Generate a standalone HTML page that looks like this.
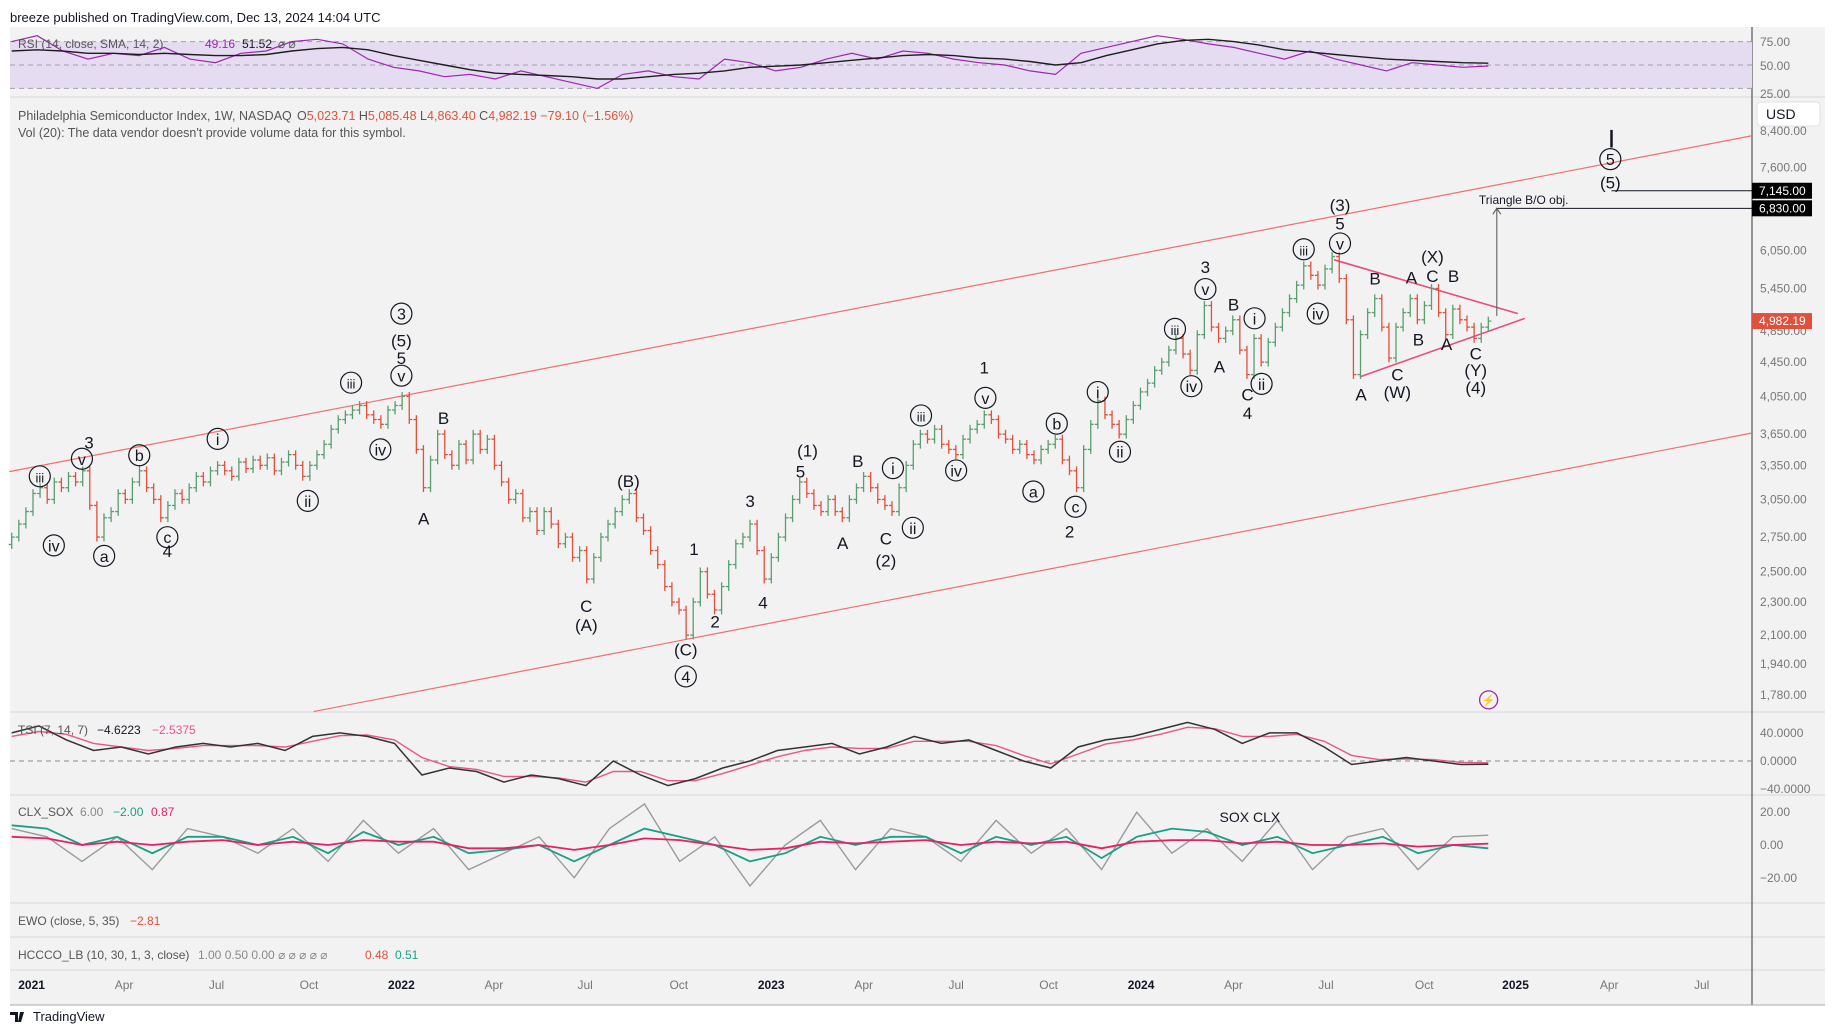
<!DOCTYPE html>
<html><head><meta charset="utf-8"><style>
body{margin:0;background:#fff;font-family:"Liberation Sans",sans-serif}
svg{display:block}
</style></head><body>
<svg id="c" width="1835" height="1033" xmlns="http://www.w3.org/2000/svg" font-family="Liberation Sans, sans-serif">
<rect x="0" y="0" width="1835" height="1033" fill="#ffffff"/>
<rect x="10" y="27" width="1815" height="978" fill="#f2f2f2"/>
<text x="10" y="22" font-size="13" fill="#131722">breeze published on TradingView.com, Dec 13, 2024 14:04 UTC</text>
<g id="grid"></g>
<g id="layer"></g>
</svg>
<script>
// ---- data ----
const closes=[2750,2850,2950,3100,3150,3050,3200,3150,3250,3200,3300,3000,2750,2900,2950,3100,3050,3200,3300,3150,3050,2900,3000,3100,3050,3150,3250,3200,3300,3350,3300,3250,3380,3320,3400,3350,3420,3300,3380,3450,3350,3250,3350,3450,3550,3700,3800,3850,3900,3950,3850,3800,3750,3900,3950,4050,3800,3500,3150,3400,3650,3450,3350,3550,3400,3650,3500,3600,3350,3200,3050,3100,2900,2950,2800,2950,2850,2700,2750,2600,2650,2450,2600,2750,2850,2950,3050,3100,2900,2800,2650,2550,2400,2300,2250,2100,2300,2500,2350,2250,2400,2550,2700,2750,2850,2650,2450,2600,2750,2900,3050,3200,3100,3000,2950,3050,2950,2900,3050,3150,3250,3150,3050,3000,2950,3150,3350,3550,3650,3600,3700,3550,3500,3450,3600,3700,3750,3850,3800,3650,3600,3500,3550,3450,3400,3500,3550,3600,3400,3300,3150,3500,3750,4000,3850,3750,3650,3800,3950,4100,4200,4350,4450,4600,4750,4550,4350,4800,5200,4900,4750,4850,5000,4600,4300,4750,4450,4700,4900,5100,5300,5500,5800,5650,5500,5750,5950,5600,5000,4300,4800,5100,5300,4900,4500,4900,5100,5300,5000,5200,5450,5100,4800,5150,5000,4900,4750,4900,4982.19];
const rsi=[70,75,62,55,60,58,65,55,52,60,62,70,72,68,55,48,45,40,42,38,45,40,35,30,42,45,40,38,55,52,45,48,55,60,55,62,60,55,52,50,45,42,60,65,70,75,72,68,65,60,55,62,55,50,45,52,50,48,49.16];
const rsiSma=[62,63,62,60,60,59,60,59,58,58,59,62,64,65,63,58,54,50,46,43,42,41,40,38,38,40,42,43,45,48,49,50,52,54,56,58,59,58,56,55,53,50,52,58,63,68,71,72,70,67,63,61,59,57,55,54,53,52,51.52];
const tsi=[40,50,30,15,20,10,20,25,20,25,15,35,40,35,25,-20,-10,-15,-30,-20,-25,-35,0,-20,-35,-25,-10,0,15,20,25,10,20,35,25,30,15,0,-10,20,30,35,45,55,45,25,40,40,20,-5,0,5,0,-5,-4.6];
const tsiSig=[35,42,38,25,20,15,18,22,22,22,20,28,36,37,30,5,-8,-12,-22,-22,-24,-30,-15,-15,-28,-28,-18,-6,6,15,20,18,18,28,28,28,22,8,-4,10,24,30,38,48,46,35,35,38,28,8,2,3,2,-2,-2.5];
const clxGray=[10,5,-10,5,-15,10,5,-5,10,-10,15,-5,10,-15,-5,5,-20,10,25,-10,5,-25,0,15,-15,10,5,-10,15,-5,10,-15,20,-5,10,-10,15,-15,5,10,-15,5,6];
const clxTeal=[12,10,0,5,-5,5,5,0,5,-5,8,0,5,-5,-3,0,-10,0,10,5,0,-10,-5,5,0,5,5,-5,5,0,5,-8,5,10,8,0,5,-5,0,5,-5,0,-2];
const clxPink=[5,4,0,2,0,2,3,0,2,0,3,2,2,-2,-2,0,-3,0,4,3,0,-3,-2,2,1,2,3,0,2,1,2,-2,2,3,3,1,2,0,0,1,-1,0,0.87];
const priceTicks=[8400,7600,6050,5450,4850,4450,4050,3650,3350,3050,2750,2500,2300,2100,1940,1780];
const timeLabels=["2021","Apr","Jul","Oct","2022","Apr","Jul","Oct","2023","Apr","Jul","Oct","2024","Apr","Jul","Oct","2025","Apr","Jul"];

// ---- scales ----
const S=1.1703;
const NS='http://www.w3.org/2000/svg';
const L=document.getElementById('layer');
const G=document.getElementById('grid');
function xW(w){return S*(10+6.066*w);}
function yP(p){return 695.2-363.5*Math.log(p/1780);}
function yRsi(v){return 65+(50-v)*1.0*S;}
function yTsi(v){return 761-v*0.6*S;}
function yClx(v){return 845-v*1.4*S;}
function mk(tag,attrs,parent){const e=document.createElementNS(NS,tag);for(const k in attrs)e.setAttribute(k,attrs[k]);(parent||L).appendChild(e);return e;}
function txt(s,x,y,size,fill,anchor,parent){const t=mk('text',{x:x,y:y,'font-size':size,fill:fill,'text-anchor':anchor||'start'},parent);t.textContent=s;return t;}

[97,712,795,903,937,970].forEach(y=>{const l=mk('line',{x1:10,x2:1825,y1:y,y2:y,stroke:'#dcdde2','stroke-width':1.2},G);

});
const AX=1752;
const ax=mk('line',{x1:AX,x2:AX,y1:27,y2:1005,stroke:'#555','stroke-width':1.2},G);


mk('line',{x1:10,x2:1825,y1:1005,y2:1005,stroke:'#aaa','stroke-width':1},G);

const rb=mk('rect',{x:10,y:yRsi(70),width:AX-10,height:yRsi(30)-yRsi(70),fill:'#e6dcf2'});


[70,50,30].forEach(v=>mk('line',{x1:10,x2:AX,y1:yRsi(v),y2:yRsi(v),stroke:'#a0a0a8','stroke-dasharray':'5,4','stroke-width':1}));
function series(arr,yf,color,w,name,x0,x1){const n=arr.length;let d='';arr.forEach((v,i)=>{const x=x0+(x1-x0)*i/(n-1);d+=(i?'L':'M')+x.toFixed(1)+','+yf(v).toFixed(1);});const p=mk('path',{d:d,fill:'none',stroke:color,'stroke-width':w});

return p;}
const X0=xW(0),X1=xW(closes.length-1);
series(rsi,yRsi,'#9c27b0',1.2,'rsi-line',X0,X1);
series(rsiSma,yRsi,'#1e1e1e',1.4,'rsi-sma-line',X0,X1);
const rl=txt('RSI (14, close, SMA, 14, 2)',18,48,12,'#555');


txt('49.16',205,48,12,'#9c27b0');txt('51.52',242,48,12,'#131722');txt('⌀ ⌀',278,48,12,'#555');
[[75,42],[50,66],[25,94]].forEach(a=>txt(a[0].toFixed(2),1760,a[1]+4,12,'#777'));

const sl=txt('Philadelphia Semiconductor Index, 1W, NASDAQ',18,120,12.5,'#555');


const ohlc=mk('text',{x:297,y:120,'font-size':12.5,fill:'#555'});
ohlc.innerHTML='O<tspan fill="#e0503c">5,023.71</tspan> H<tspan fill="#e0503c">5,085.48</tspan> L<tspan fill="#e0503c">4,863.40</tspan> C<tspan fill="#e0503c">4,982.19</tspan> <tspan fill="#e0503c">−79.10 (−1.56%)</tspan>';
txt("Vol (20): The data vendor doesn't provide volume data for this symbol.",18,137,12.5,'#555');

const ub=mk('rect',{x:1757,y:102,width:63,height:24,rx:4,fill:'#fff',stroke:'#e0e0e0'});


txt('USD',1766,119,14,'#131722');

priceTicks.forEach(p=>txt(p.toLocaleString('en-US',{minimumFractionDigits:2}),1760,yP(p)+4,12,'#777'));

function sl2(a,b,c,d,col,w,name){const l=mk('line',{x1:a*S,y1:b*S,x2:c*S,y2:d*S,stroke:col,'stroke-width':w});

}
sl2(8,403,1497,116,'#f07070',1.2,'channel-upper');
sl2(268,608,1497,370,'#f07070',1.2,'channel-lower');
sl2(1140,222,1297,268,'#e84c7d',1.6,'triangle-upper');
sl2(1162,322,1303,272,'#e84c7d',1.6,'triangle-lower');

closes.forEach((c,i)=>{
  const o=i?closes[i-1]:c*0.98;
  const hi=Math.max(o,c)*1.012, lo=Math.min(o,c)*0.988;
  const col=c>=o?'#5a9e6f':'#e0503c';
  const x=xW(i);
  const g=mk('g',{});
  
  
  mk('line',{x1:x,x2:x,y1:yP(hi),y2:yP(lo),stroke:col,'stroke-width':1.3},g);
  mk('line',{x1:x-3,x2:x,y1:yP(o),y2:yP(o),stroke:col,'stroke-width':1.3},g);
  mk('line',{x1:x,x2:x+3,y1:yP(c),y2:yP(c),stroke:col,'stroke-width':1.3},g);
});

mk('line',{x1:1377*S,x2:AX,y1:163*S,y2:163*S,stroke:'#131722','stroke-width':1});
mk('line',{x1:1279*S,x2:AX,y1:178*S,y2:178*S,stroke:'#131722','stroke-width':1});
mk('line',{x1:1279*S,x2:1279*S,y1:178*S,y2:270*S,stroke:'#555','stroke-width':1});
mk('path',{d:`M${1279*S-4},${178*S+6}L${1279*S},${178*S}L${1279*S+4},${178*S+6}`,fill:'none',stroke:'#555'});
mk('line',{x1:1377*S,x2:1377*S,y1:111*S,y2:126*S,stroke:'#131722','stroke-width':2.5});
txt('Triangle B/O obj.',1302*S,171*S+4,12,'#131722','middle');
[[7145,163],[6830,178]].forEach(a=>{const r=mk('rect',{x:AX,y:a[1]*S-8,width:60,height:16,fill:'#000'});


txt(a[0].toLocaleString('en-US',{minimumFractionDigits:2}),1759,a[1]*S+4,12,'#fff');});
const lp=mk('rect',{x:AX,y:yP(4982.19)-8,width:60,height:16,fill:'#e0503c'});


txt('4,982.19',1759,yP(4982.19)+4,12,'#fff');

const waves=[["iii",34,407,1],["iv",46,466,1],["3",76,378,0],["v",70,392,1],["a",89,475,1],["b",119,389,1],["c",143,459,1],["4",143,471,0],["i",186,375,1],["ii",263,428,1],["iii",300,327,1],["iv",325,384,1],["3",343,268,1],["(5)",343,291,0],["5",343,306,0],["v",343,321,1],["B",379,357,0],["A",362,443,0],["C",501,518,0],["(A)",501,534,0],["(B)",537,411,0],["1",593,469,0],["2",611,531,0],["(C)",586,555,0],["4",586,578,1],["3",641,428,0],["4",652,515,0],["(1)",690,385,0],["5",684,403,0],["A",720,464,0],["B",733,394,0],["C",757,460,0],["(2)",757,479,0],["i",763,400,1],["ii",780,451,1],["iii",787,355,1],["iv",817,402,1],["1",841,314,0],["v",842,340,1],["a",883,420,1],["b",903,362,1],["c",919,433,1],["2",914,454,0],["i",938,335,1],["ii",957,386,1],["iii",1004,281,1],["iv",1018,330,1],["3",1030,228,0],["v",1030,247,1],["A",1042,313,0],["B",1054,260,0],["i",1072,272,1],["ii",1078,328,1],["C",1066,337,0],["4",1066,353,0],["iii",1114,213,1],["iv",1126,268,1],["(3)",1145,175,0],["5",1145,191,0],["v",1145,208,1],["B",1175,238,0],["A",1206,237,0],["C",1224,236,0],["(X)",1224,219,0],["B",1242,236,0],["A",1163,337,0],["C",1194,320,0],["(W)",1194,335,0],["B",1212,290,0],["A",1236,294,0],["C",1261,302,0],["(Y)",1261,316,0],["(4)",1261,331,0],["5",1376,136,1],["(5)",1376,156,0]];
waves.forEach(w=>{const x=w[1]*S,y=w[2]*S;const g=mk('g',{});


if(w[3])mk('circle',{cx:x,cy:y,r:10.5,fill:'none',stroke:'#131722','stroke-width':1.2},g);
txt(w[0],x,y+6,w[3]?(w[0].length>2?13:16):17,'#131722','middle',g);});

mk('circle',{cx:1272*S,cy:598*S,r:9,fill:'none',stroke:'#9c27b0','stroke-width':1.3});
txt('⚡',1272*S,598*S+4,11,'#9c27b0','middle');

mk('line',{x1:10,x2:AX,y1:yTsi(0),y2:yTsi(0),stroke:'#888','stroke-dasharray':'5,4'});
series(tsiSig,yTsi,'#e8578c',1.4,'tsi-signal-line',X0,X1);
series(tsi,yTsi,'#333',1.5,'tsi-line',X0,X1);
const tl=txt('TSI (7, 14, 7)',18,734,12,'#555');


txt('−4.6223',97,734,12,'#131722');txt('−2.5375',152,734,12,'#e8578c');
[[40,'40.0000'],[0,'0.0000'],[-40,'−40.0000']].forEach(a=>txt(a[1],1760,yTsi(a[0])+4,12,'#777'));

series(clxGray,yClx,'#9a9a9a',1.4,'clx-gray-line',X0,X1);
series(clxTeal,yClx,'#17a085',1.8,'clx-teal-line',X0,X1);
series(clxPink,yClx,'#e91e63',1.8,'clx-pink-line',X0,X1);
const cl=txt('CLX_SOX',18,816,12,'#555');


txt('6.00',80,816,12,'#888');txt('−2.00',113,816,12,'#17a085');txt('0.87',151,816,12,'#e91e63');
txt('SOX CLX',1068*S,698*S+5,14,'#131722','middle');
[[20,'20.00'],[0,'0.00'],[-20,'−20.00']].forEach(a=>txt(a[1],1760,yClx(a[0])+4,12,'#777'));

const ew=txt('EWO (close, 5, 35)',18,925,12,'#555');


txt('−2.81',130,925,12,'#e0503c');
const hc=txt('HCCCO_LB (10, 30, 1, 3, close)',18,959,12,'#555');


txt('1.00  0.50  0.00  ⌀ ⌀ ⌀ ⌀ ⌀',198,959,12,'#888');
txt('0.48',365,959,12,'#e0503c');txt('0.51',395,959,12,'#17a085');

const tx=[27,106,185,264,343,422,500,580,659,738,817,896,975,1054,1133,1217,1295,1375,1454];
timeLabels.forEach((s,i)=>{const t=txt(s,tx[i]*S,989,12,s.length===4?'#131722':'#777','middle');
if(s.length===4)t.setAttribute('font-weight','bold');

});

const lg=txt('TradingView',33,1021,13,'#131722');


mk('path',{d:'M10,1012h8v10h-3v-7h-5z M20,1012h4l-3,10h-3z',fill:'#131722'});
</script>
</body></html>
